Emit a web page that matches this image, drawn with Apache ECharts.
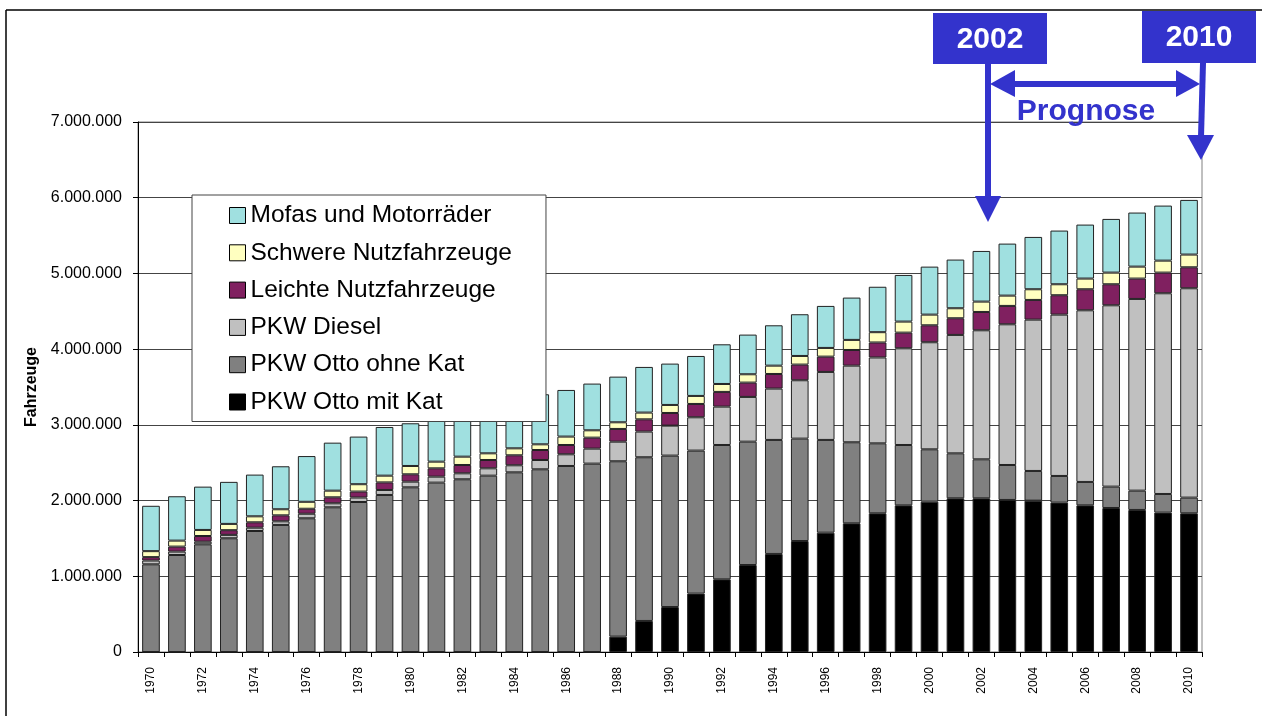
<!DOCTYPE html>
<html>
<head>
<meta charset="utf-8">
<script src="https://cdn.jsdelivr.net/npm/echarts@6/dist/echarts.min.js"></script>
<style>
  html, body { margin: 0; padding: 0; background: #fff; }
  #chart { width: 1262px; height: 716px; }
</style>
</head>
<body>
<div id="chart"></div>
<script>
// Fahrzeugbestand 1970 - 2010 (ab 2002 Prognose)
const years = [
  "1970", "1971", "1972", "1973", "1974", "1975", "1976", "1977", "1978", "1979",
  "1980", "1981", "1982", "1983", "1984", "1985", "1986", "1987", "1988", "1989",
  "1990", "1991", "1992", "1993", "1994", "1995", "1996", "1997", "1998", "1999",
  "2000", "2001", "2002", "2003", "2004", "2005", "2006", "2007", "2008", "2009", "2010",
];

const ottoMitKat = [
  0, 0, 0, 0, 0, 0, 0, 0, 0, 0,
  0, 0, 0, 0, 0, 0, 0, 0, 203000, 410000,
  594000, 771000, 960000, 1149000, 1295000, 1466000, 1576000, 1700000, 1832000, 1937000,
  1986000, 2030000, 2030000, 2008000, 1999000, 1973000, 1937000, 1902000, 1876000, 1841000, 1832000,
];
const ottoOhneKat = [
  1158000, 1281000, 1422000, 1502000, 1598000, 1678000, 1766000, 1911000, 1981000, 2074000,
  2175000, 2237000, 2281000, 2329000, 2373000, 2413000, 2457000, 2488000, 2316000, 2162000,
  2000000, 1889000, 1774000, 1629000, 1506000, 1352000, 1225000, 1070000, 924000, 797000,
  691000, 594000, 515000, 462000, 392000, 352000, 309000, 282000, 255000, 246000, 207000,
];
const pkwDiesel = [
  50000, 45000, 35000, 45000, 44000, 48000, 60000, 53000, 59000, 66000,
  75000, 79000, 79000, 97000, 93000, 123000, 154000, 198000, 259000, 339000,
  396000, 440000, 507000, 591000, 678000, 771000, 898000, 1012000, 1134000, 1277000,
  1414000, 1564000, 1704000, 1858000, 1999000, 2131000, 2267000, 2395000, 2532000, 2651000, 2765000,
];
const leichteNfz = [
  45000, 66000, 75000, 62000, 71000, 79000, 66000, 79000, 79000, 100000,
  97000, 110000, 110000, 110000, 132000, 132000, 123000, 145000, 168000, 162000,
  167000, 176000, 194000, 189000, 193000, 207000, 202000, 207000, 198000, 207000,
  224000, 220000, 242000, 243000, 260000, 256000, 278000, 278000, 269000, 273000, 277000,
];
const schwereNfz = [
  79000, 79000, 80000, 83000, 79000, 80000, 92000, 88000, 97000, 89000,
  110000, 88000, 110000, 88000, 92000, 75000, 111000, 97000, 88000, 89000,
  106000, 106000, 105000, 110000, 110000, 114000, 115000, 133000, 136000, 146000,
  141000, 132000, 137000, 136000, 141000, 145000, 141000, 154000, 158000, 158000, 168000,
];
const mofas = [
  599000, 586000, 572000, 555000, 551000, 568000, 604000, 634000, 629000, 643000,
  564000, 586000, 590000, 616000, 630000, 661000, 616000, 617000, 603000, 603000,
  546000, 528000, 524000, 524000, 533000, 551000, 555000, 559000, 600000, 616000,
  634000, 643000, 669000, 687000, 691000, 709000, 713000, 709000, 714000, 727000, 722000,
];

const seriesNames = [
  "PKW Otto mit Kat",
  "PKW Otto ohne Kat",
  "PKW Diesel",
  "Leichte Nutzfahrzeuge",
  "Schwere Nutzfahrzeuge",
  "Mofas und Motorräder",
];
const seriesData = [ottoMitKat, ottoOhneKat, pkwDiesel, leichteNfz, schwereNfz, mofas];
const seriesColors = ["#000000", "#808080", "#c0c0c0", "#802060", "#ffffc0", "#a0e0e0"];

const FONT = "'Liberation Sans', Arial, Helvetica, sans-serif";
const BLUE = "#3333cc";

const fmt = v => String(v).replace(/\B(?=(\d{3})+(?!\d))/g, ".");

const chart = echarts.init(document.getElementById("chart"), null, { renderer: "canvas" });

const series = seriesNames.map((name, i) => ({
  name,
  type: "bar",
  stack: "total",
  barWidth: "68%",
  data: seriesData[i],
  itemStyle: {
    color: seriesColors[i],
    borderColor: "#222",
    borderWidth: 1,
  },
  emphasis: { disabled: true },
}));

// Pfeile / Beschriftung "Prognose"
const arrowShaft = (x1, y1, x2, y2) => ({
  type: "line",
  shape: { x1, y1, x2, y2 },
  style: { stroke: BLUE, lineWidth: 6 },
  z: 100,
});
const arrowHead = points => ({
  type: "polygon",
  shape: { points },
  style: { fill: BLUE },
  z: 100,
});

const option = {
  animation: false,
  textStyle: { fontFamily: FONT },
  grid: {
    left: 138,
    right: 60,
    top: 122,
    bottom: 64,
    show: true,
    borderColor: "#808080",
    borderWidth: 1,
  },
  legend: {
    orient: "vertical",
    left: 192,
    top: 195,
    data: seriesNames.slice().reverse(),
    icon: "rect",
    backgroundColor: "#fff",
    borderColor: "#444",
    borderWidth: 1,
    padding: [8, 34, 7, 37],
    itemGap: 12.3,
    itemWidth: 16,
    itemHeight: 16,
    selectedMode: false,
    itemStyle: { borderColor: "#000", borderWidth: 1 },
    textStyle: { fontFamily: FONT, fontSize: 24.5, lineHeight: 24, color: "#000" },
  },
  xAxis: {
    type: "category",
    data: years,
    axisLine: { lineStyle: { color: "#000", width: 1 } },
    axisTick: { show: true, interval: 0, length: 5, lineStyle: { color: "#000" } },
    axisLabel: {
      interval: 1,
      rotate: 90,
      margin: 15,
      fontSize: 12,
      color: "#000",
      fontFamily: FONT,
    },
  },
  yAxis: {
    type: "value",
    min: 0,
    max: 7000000,
    interval: 1000000,
    name: "Fahrzeuge",
    nameLocation: "middle",
    nameGap: 98,
    nameTextStyle: { fontSize: 16, fontWeight: "bold", color: "#000", fontFamily: FONT },
    axisLine: { show: true, lineStyle: { color: "#000", width: 1 } },
    axisTick: { show: true, length: 5, lineStyle: { color: "#000" } },
    axisLabel: { formatter: fmt, fontSize: 16, color: "#000", margin: 16, fontFamily: FONT },
    splitLine: { lineStyle: { color: "#444", width: 1 } },
  },
  series,
  graphic: [
    // Rahmen
    { type: "line", shape: { x1: 6, y1: 10, x2: 1262, y2: 10 }, style: { stroke: "#000", lineWidth: 1.5 } },
    { type: "line", shape: { x1: 6, y1: 10, x2: 6, y2: 716 }, style: { stroke: "#000", lineWidth: 1.5 } },
    // 2002
    { type: "rect", shape: { x: 933, y: 13, width: 114, height: 51 }, style: { fill: BLUE }, z: 100 },
    {
      type: "text", z: 101,
      style: { text: "2002", x: 990, y: 40, fill: "#fff", font: "bold 30px " + FONT, textAlign: "center", textVerticalAlign: "middle" },
    },
    arrowShaft(988, 64, 988, 198),
    arrowHead([[975, 196], [1001, 196], [988, 222]]),
    // 2010
    { type: "rect", shape: { x: 1142, y: 11, width: 114, height: 52 }, style: { fill: BLUE }, z: 100 },
    {
      type: "text", z: 101,
      style: { text: "2010", x: 1199, y: 38, fill: "#fff", font: "bold 30px " + FONT, textAlign: "center", textVerticalAlign: "middle" },
    },
    arrowShaft(1203, 63, 1201, 137),
    arrowHead([[1187, 135], [1214, 135], [1201, 160]]),
    // Doppelpfeil
    arrowShaft(1012, 84, 1178, 84),
    arrowHead([[990, 84], [1015, 70], [1015, 97]]),
    arrowHead([[1200, 84], [1176, 70], [1176, 97]]),
    {
      type: "text", z: 101,
      style: { text: "Prognose", x: 1086, y: 112, fill: BLUE, font: "bold 30px " + FONT, textAlign: "center", textVerticalAlign: "middle" },
    },
  ],
};

chart.setOption(option);
</script>
</body>
</html>
